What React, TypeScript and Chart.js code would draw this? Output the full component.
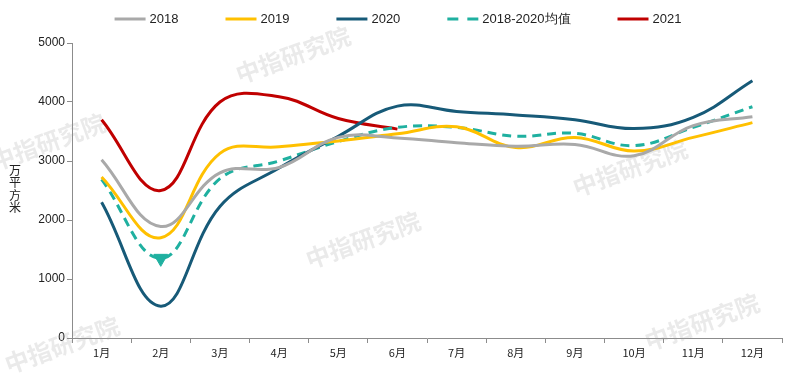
import React, { useEffect, useRef } from 'react';
import { Chart, registerables } from 'chart.js';

Chart.register(...registerables);

const months = ['1月', '2月', '3月', '4月', '5月', '6月', '7月', '8月', '9月', '10月', '11月', '12月'];
const s2018 = [3020, 1890, 2800, 2890, 3400, 3390, 3310, 3250, 3280, 3090, 3600, 3750];
const s2019 = [2730, 1700, 3130, 3240, 3340, 3460, 3580, 3230, 3400, 3170, 3400, 3650];
const s2020 = [2300, 540, 2230, 2880, 3420, 3930, 3840, 3780, 3700, 3550, 3740, 4360];
const sAvg = [2690, 1350, 2700, 3000, 3330, 3570, 3570, 3420, 3470, 3260, 3570, 3920];
const s2021 = [3700, 2500, 4000, 4090, 3720, 3540];
const seriesNames = ['2018', '2019', '2020', '2018-2020均值', '2021'];
const yTicks = [0, 1000, 2000, 3000, 4000, 5000];
const yTitle = '万平方米';
const watermarkText = '中指研究院';

const COLORS = ['#A9A9A9', '#FFC000', '#175A78', '#1FB0A0', '#C00000'];
const FONT = '"Liberation Sans", Arial, sans-serif';
const CJK = '"Noto Sans CJK SC", "Liberation Sans", sans-serif';

const WATERMARKS: [number, number][] = [
  [48, 142], [293, 55], [630, 168], [363, 240], [62, 345], [702, 322],
];

const decorPlugin = {
  id: 'decor',
  beforeDatasetsDraw(chart: any) {
    const ctx = chart.ctx;
    ctx.save();
    ctx.font = `bold 24px ${CJK}`;
    ctx.fillStyle = 'rgba(150,150,150,0.2)';
    ctx.textAlign = 'center';
    ctx.textBaseline = 'middle';
    for (const [x, y] of WATERMARKS) {
      ctx.save();
      ctx.translate(x, y);
      ctx.rotate((-20 * Math.PI) / 180);
      ctx.fillText(watermarkText, 0, 0);
      ctx.restore();
    }
    ctx.restore();
  },
  afterDraw(chart: any) {
    const ctx = chart.ctx;
    ctx.save();
    ctx.font = `12px ${CJK}`;
    ctx.fillStyle = '#222';
    ctx.textAlign = 'center';
    ctx.textBaseline = 'middle';
    const chars = Array.from(yTitle);
    const step = 12.5;
    const cy = 189;
    chars.forEach((c, i) => {
      ctx.fillText(c, 15, cy + (i - (chars.length - 1) / 2) * step);
    });
    ctx.font = `13px ${FONT}`;
    const lineLen = 31;
    const gapText = 4;
    const gapItem = 47;
    const items = chart.data.datasets.map((ds: any) => ({
      label: ds.label,
      color: ds.borderColor,
      dash: ds.borderDash && ds.borderDash.length ? [11, 9] : [],
      w: lineLen + gapText + ctx.measureText(ds.label).width,
    }));
    const total = items.reduce((a: number, it: any) => a + it.w, 0) + gapItem * (items.length - 1);
    let x = chart.width / 2 - total / 2;
    const y = 19;
    ctx.textAlign = 'left';
    ctx.textBaseline = 'middle';
    for (const it of items) {
      ctx.beginPath();
      ctx.setLineDash(it.dash);
      ctx.strokeStyle = it.color;
      ctx.lineWidth = 3;
      ctx.moveTo(x, y);
      ctx.lineTo(x + lineLen, y);
      ctx.stroke();
      ctx.setLineDash([]);
      ctx.fillStyle = '#222';
      ctx.fillText(it.label, x + lineLen + gapText, y + 0.5);
      x += it.w + gapItem;
    }
    ctx.restore();
  },
};

export default function App() {
  const ref = useRef<HTMLCanvasElement | null>(null);
  useEffect(() => {
    if (!ref.current) return;
    const mk = (label: string, data: number[], color: string, extra: any = {}) => ({
      label,
      data,
      borderColor: color,
      backgroundColor: color,
      borderWidth: 3,
      pointRadius: 0,
      pointHoverRadius: 0,
      tension: 0.4,
      fill: false,
      ...extra,
    });
    const chart = new Chart(ref.current, {
      type: 'line',
      data: {
        labels: months,
        datasets: [
          mk(seriesNames[0], s2018, COLORS[0]),
          mk(seriesNames[1], s2019, COLORS[1]),
          mk(seriesNames[2], s2020, COLORS[2]),
          mk(seriesNames[3], sAvg, COLORS[3], {
            borderDash: [9, 6],
            pointStyle: 'triangle',
            pointRadius: sAvg.map((_, i) => (i === 1 ? 8 : 0)),
            pointRotation: 180,
            pointBorderWidth: 1,
          }),
          mk(seriesNames[4], s2021, COLORS[4]),
        ],
      },
      options: {
        animation: false,
        responsive: false,
        maintainAspectRatio: false,
        events: [],
        layout: { padding: { top: 43, right: 14, bottom: 0, left: 0 } },
        plugins: {
          legend: { display: false },
          tooltip: { enabled: false },
          title: { display: false },
        },
        scales: {
          x: {
            type: 'category',
            offset: true,
            grid: {
              display: true,
              offset: true,
              drawOnChartArea: false,
              drawTicks: true,
              tickLength: 5,
              color: '#8c8c8c',
            },
            border: { display: true, color: '#8c8c8c', width: 1 },
            ticks: {
              color: '#222',
              font: { size: 11, family: CJK },
              padding: 3,
              maxRotation: 0,
              autoSkip: false,
            },
            afterFit(scale: any) {
              scale.height = 35;
            },
          },
          y: {
            min: 0,
            max: 5000,
            afterBuildTicks(scale: any) {
              scale.ticks = yTicks.map((v) => ({ value: v }));
            },
            grid: {
              display: true,
              drawOnChartArea: false,
              drawTicks: true,
              tickLength: 5,
              color: '#8c8c8c',
            },
            border: { display: true, color: '#8c8c8c', width: 1 },
            ticks: {
              color: '#222',
              font: { size: 12, family: FONT },
              padding: 2,
              callback: (v: any) => String(v),
            },
            afterFit(scale: any) {
              scale.width = 72;
            },
          },
        },
      },
      plugins: [decorPlugin],
    });
    return () => chart.destroy();
  }, []);
  return (
    <div style={{ position: 'absolute', left: 0, top: 0, width: 796, height: 373, background: '#fff' }}>
      <canvas ref={ref} width={796} height={373} style={{ width: 796, height: 373, display: 'block' }} />
    </div>
  );
}
